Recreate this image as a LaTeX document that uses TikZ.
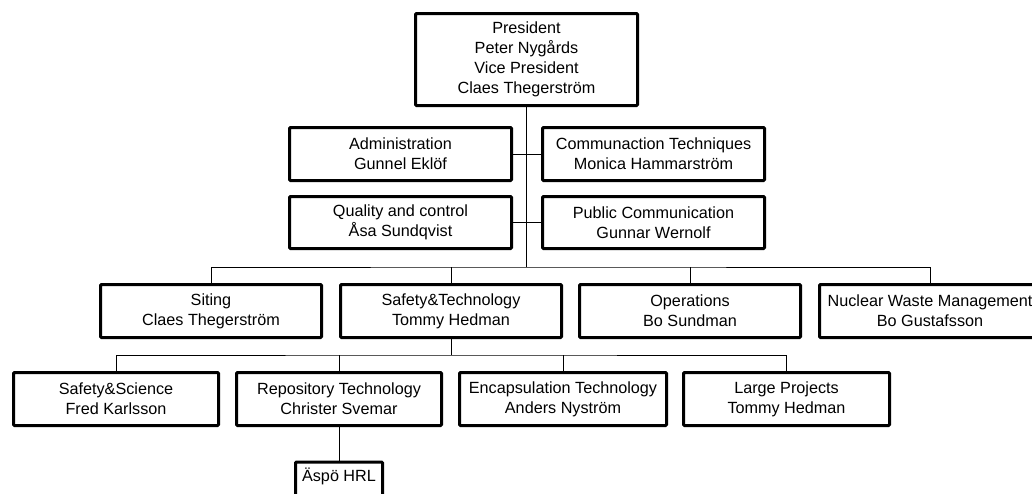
\documentclass[tikz,border=0pt]{standalone}
\usepackage{fontspec}
\setmainfont{Liberation Sans}
\begin{document}
\begin{tikzpicture}[x=1pt,y=-1pt,
  unit/.style={draw, line width=3pt, rounded corners=1pt, fill=white,
    align=center, inner sep=0pt, minimum height=53pt,
    font=\fontsize{16.2}{20}\selectfont},
  link/.style={line width=1pt}]
\useasboundingbox (0,0) rectangle (1032,493);
\fill[white] (0,0) rectangle (1032,493);
\clip (0,0) rectangle (1032,493);

% top management
\node[unit, minimum width=222pt, minimum height=92pt] (pres) at (526.5,59.5)
  {President\\Peter Nygårds\\Vice President\\Claes Thegerström};

% staff functions
\node[unit, minimum width=222pt] (admin) at (400.5,154) {Administration\\Gunnel Eklöf};
\node[unit, minimum width=222pt] (comm) at (653.5,154) {Communaction Techniques\\Monica Hammarström};
\node[unit, minimum width=222pt, minimum height=52pt] (qual) at (400.5,222.5) {Quality and control\\Åsa Sundqvist};
\node[unit, minimum width=222pt, minimum height=52pt] (pub) at (653.5,222.5) {Public Communication\\Gunnar Wernolf};

% divisions
\node[unit, minimum width=221pt] (siting) at (211,311) {Siting\\Claes Thegerström};
\node[unit, minimum width=221pt] (safetech) at (451,311) {Safety\&Technology\\Tommy Hedman};
\node[unit, minimum width=221pt] (ops) at (690,311) {Operations\\Bo Sundman};
\node[unit, minimum width=221pt] (nwm) at (930,311) {Nuclear Waste Management\\Bo Gustafsson};

% departments under Safety&Technology
\node[unit, minimum width=205pt] (sci) at (116,399) {Safety\&Science\\Fred Karlsson};
\node[unit, minimum width=205pt] (repo) at (339,399) {Repository Technology\\Christer Svemar};
\node[unit, minimum width=207pt] (encap) at (563,399) {Encapsulation Technology\\Anders Nyström};
\node[unit, minimum width=206pt] (large) at (786.5,399) {Large Projects\\Tommy Hedman};

% laboratory
\node[unit, anchor=north, minimum width=87pt, minimum height=0pt,
  text height=19pt, text depth=45pt] (aspo) at (339,460.5) {Äspö HRL};

% bus junctions
\coordinate (b1) at (526.5,267);
\coordinate (b2) at (451,355);

% connectors
\draw[link] (pres.south) -- (b1);
\draw[link] (admin.east) -- (comm.west);
\draw[link] (qual.east) -- (pub.west);
\draw[link] (siting.north) |- (b1) -| (nwm.north);
\draw[link] (safetech.north) -- (safetech.north |- b1);
\draw[link] (ops.north) -- (ops.north |- b1);
\draw[link] (safetech.south) -- (b2);
\draw[link] (sci.north) |- (b2) -| (large.north);
\draw[link] (repo.north) -- (repo.north |- b2);
\draw[link] (encap.north) -- (encap.north |- b2);
\draw[link] (repo.south) -- (aspo.north);
\end{tikzpicture}
\end{document}
